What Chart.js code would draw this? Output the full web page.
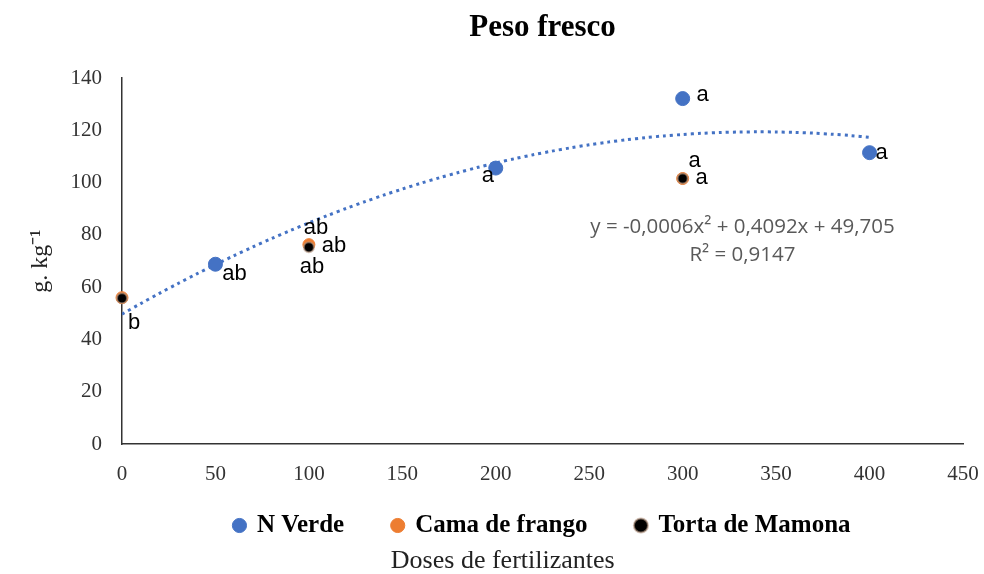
<!DOCTYPE html>
<html>
<head>
<meta charset="utf-8">
<script src="https://cdn.jsdelivr.net/npm/chart.js@4.4.0/dist/chart.umd.min.js"></script>
<style>
  html, body { margin: 0; padding: 0; background: #fff; }
  #wrap { width: 984px; height: 574px; }
</style>
</head>
<body>
<div id="wrap"><canvas id="chart"></canvas></div>
<script>
// data
const nVerdeDoses = [50, 200, 300, 400];
const nVerdeValues = [68.8, 105.6, 132.2, 111.5];
const camaDoses = [0, 100, 300];
const camaValues = [56, 76.3, 101.6];
const tortaDoses = [0, 100, 300];
const tortaValues = [55.8, 75.3, 101.6];
// polynomial trendline as printed on the chart: a*x^2 + b*x + c
const trendCoef = [-0.0006, 0.4092, 49.705];
const trendDoses = [];
for (let d = 0; d <= 400; d += 10) trendDoses.push(d);
const xTicks = [0, 50, 100, 150, 200, 250, 300, 350, 400, 450];
const yTicks = [0, 20, 40, 60, 80, 100, 120, 140];
const equationLines = ['y = -0,0006x\u00b2 + 0,4092x + 49,705', 'R\u00b2 = 0,9147'];

// significance letters: [dataset, point, text, dx, dy]
const letterMarks = [
  [0, 0, 'ab', 19, 10],
  [0, 1, 'a', -8, 8],
  [0, 2, 'a', 20, -4],
  [0, 3, 'a', 12, 0],
  [2, 0, 'b', 12, 25],
  [1, 1, 'ab', 7, -17],
  [2, 1, 'ab', 25, -1],
  [2, 1, 'ab', 3, 20],
  [1, 2, 'a', 12, -18],
  [2, 2, 'a', 19, -1]
];

const toPts = (xs, ys) => xs.map((x, i) => ({x: x, y: ys[i]}));
const serif = '"Liberation Serif", "Times New Roman", serif';

const lettersPlugin = {
  id: 'letters',
  afterDatasetsDraw(chart) {
    const ctx = chart.ctx;
    ctx.save();
    ctx.font = '22px "Liberation Sans", Arial, sans-serif';
    ctx.fillStyle = '#000';
    ctx.textAlign = 'center';
    ctx.textBaseline = 'middle';
    letterMarks.forEach(m => {
      const el = chart.getDatasetMeta(m[0]).data[m[1]];
      ctx.fillText(m[2], el.x + m[3], el.y + m[4]);
    });
    // trendline equation
    const xs = chart.scales.x, ys = chart.scales.y;
    ctx.font = '20.5px "Open Sans", "Liberation Sans", sans-serif';
    ctx.fillStyle = '#595959';
    ctx.fillText(equationLines[0], xs.getPixelForValue(332), ys.getPixelForValue(82.9));
    ctx.fillText(equationLines[1], xs.getPixelForValue(332), ys.getPixelForValue(72.2));
    ctx.restore();
  }
};

new Chart(document.getElementById('chart'), {
  type: 'scatter',
  data: {
    datasets: [
      {
        label: 'N Verde',
        data: toPts(nVerdeDoses, nVerdeValues),
        backgroundColor: '#4472C4',
        borderColor: '#4472C4',
        pointRadius: 7,
        pointHoverRadius: 7,
        clip: false,
        order: 3
      },
      {
        label: 'Cama de frango',
        data: toPts(camaDoses, camaValues),
        backgroundColor: '#ED7D31',
        borderColor: '#ED7D31',
        pointRadius: 6,
        pointHoverRadius: 6,
        clip: false,
        order: 2
      },
      {
        label: 'Torta de Mamona',
        data: toPts(tortaDoses, tortaValues),
        backgroundColor: '#000',
        borderColor: 'rgba(180,150,130,0.6)',
        borderWidth: 2,
        pointRadius: 5,
        pointHoverRadius: 5,
        clip: false,
        order: 1
      },
      {
        type: 'line',
        label: 'trend',
        data: toPts(trendDoses, trendDoses.map(d => trendCoef[0] * d * d + trendCoef[1] * d + trendCoef[2])),
        borderColor: '#4472C4',
        borderWidth: 3,
        borderDash: [3, 4],
        pointRadius: 0,
        fill: false,
        tension: 0.3,
        order: 4
      }
    ]
  },
  options: {
    responsive: true,
    maintainAspectRatio: false,
    animation: false,
    layout: { padding: { left: 10, right: 21, top: 4, bottom: 0 } },
    scales: {
      x: {
        type: 'linear',
        min: 0,
        max: 450,
        afterBuildTicks: s => { s.ticks = xTicks.map(v => ({value: v})); },
        grid: { display: false },
        border: { display: true, color: '#333', width: 1.5 },
        ticks: {
          color: '#333',
          padding: 10,
          font: { family: serif, size: 21 }
        },
        afterFit: s => { s.height = 58; s.paddingRight = 0; }
      },
      y: {
        min: 0,
        max: 140,
        afterBuildTicks: s => { s.ticks = yTicks.map(v => ({value: v})); },
        grid: { display: false },
        border: { display: true, color: '#333', width: 1.5 },
        ticks: {
          color: '#333',
          padding: 12,
          font: { family: serif, size: 21 }
        },
        title: {
          display: true,
          text: 'g. kg\u207b\u00b9',
          color: '#222',
          padding: { top: 16, bottom: 0 },
          font: { family: serif, size: 24 }
        },
        afterFit: s => { s.width = 112; }
      }
    },
    plugins: {
      title: {
        display: true,
        text: 'Peso fresco',
        color: '#000',
        fullSize: false,
        padding: { top: 5, bottom: 32 },
        font: { family: serif, size: 31, weight: 'bold' }
      },
      legend: {
        position: 'bottom',
        fullSize: false,
        labels: {
          usePointStyle: true,
          pointStyle: 'circle',
          boxWidth: 10,
          boxHeight: 10,
          padding: 11,
          color: '#000',
          font: { family: serif, size: 25, weight: 'bold' },
          filter: item => item.text !== 'trend',
          sort: (a, b) => a.datasetIndex - b.datasetIndex,
          generateLabels: chart => Chart.defaults.plugins.legend.labels.generateLabels(chart).map(l => {
            if (l.datasetIndex < 2) l.text = l.text + '      ';
            return l;
          })
        }
      },
      subtitle: {
        display: true,
        position: 'bottom',
        text: '     Doses de fertilizantes',
        color: '#222',
        padding: { top: 0, bottom: 0 },
        font: { family: serif, size: 26, lineHeight: 1 }
      },
      tooltip: { enabled: false }
    }
  },
  plugins: [lettersPlugin]
});
</script>
</body>
</html>
